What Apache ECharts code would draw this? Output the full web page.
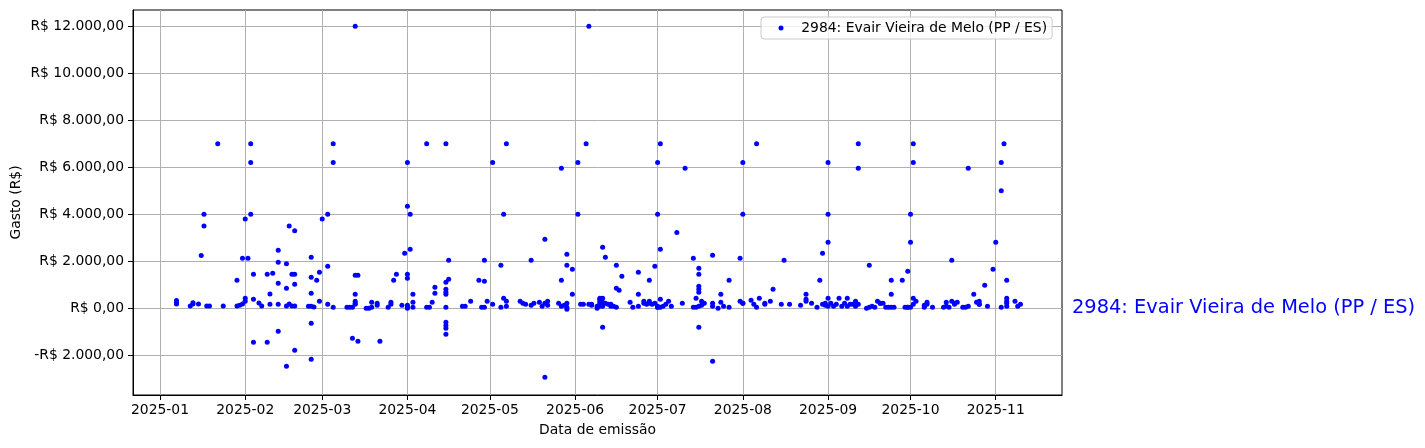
<!DOCTYPE html>
<html>
<head>
<meta charset="utf-8">
<script src="https://cdn.jsdelivr.net/npm/echarts@6/dist/echarts.min.js"></script>
<style>
html,body{margin:0;padding:0;background:#fff;}
#chart{width:1425px;height:448px;}
</style>
</head>
<body>
<div id="chart"></div>
<script>
// ---- data ----
const seriesName = '2984: Evair Vieira de Melo (PP / ES)';
const xAxisTitle = 'Data de emissão';
const yAxisTitle = 'Gasto (R$)';
const xTickDates = ['2025-01-01','2025-02-01','2025-03-01','2025-04-01','2025-05-01','2025-06-01','2025-07-01','2025-08-01','2025-09-01','2025-10-01','2025-11-01'];
const yTickValues = [-2000, 0, 2000, 4000, 6000, 8000, 10000, 12000];

const days = [
'2025-01-07','2025-01-12','2025-01-13','2025-01-15','2025-01-16','2025-01-17','2025-01-18','2025-01-19','2025-01-22','2025-01-24',
'2025-01-29','2025-01-30','2025-01-31','2025-02-01','2025-02-02','2025-02-03','2025-02-04','2025-02-06','2025-02-07','2025-02-09',
'2025-02-10','2025-02-11','2025-02-13','2025-02-16','2025-02-17','2025-02-18','2025-02-19','2025-02-24','2025-02-25','2025-02-26',
'2025-02-27','2025-02-28','2025-03-01','2025-03-03','2025-03-05','2025-03-10','2025-03-11','2025-03-12','2025-03-13','2025-03-14',
'2025-03-17','2025-03-18','2025-03-19','2025-03-21','2025-03-22','2025-03-25','2025-03-26','2025-03-27','2025-03-28','2025-03-30',
'2025-03-31','2025-04-01','2025-04-02','2025-04-03','2025-04-08','2025-04-09','2025-04-10','2025-04-11','2025-04-15','2025-04-16',
'2025-04-21','2025-04-22','2025-04-24','2025-04-27','2025-04-28','2025-04-29','2025-04-30','2025-05-02','2025-05-05','2025-05-06',
'2025-05-07','2025-05-12','2025-05-13','2025-05-14','2025-05-16','2025-05-17','2025-05-19','2025-05-20','2025-05-21','2025-05-22',
'2025-05-26','2025-05-27','2025-05-28','2025-05-29','2025-05-31','2025-06-02','2025-06-03','2025-06-04','2025-06-05','2025-06-06',
'2025-06-07','2025-06-09','2025-06-10','2025-06-11','2025-06-12','2025-06-13','2025-06-14','2025-06-15','2025-06-16','2025-06-17',
'2025-06-18','2025-06-21','2025-06-22','2025-06-24','2025-06-26','2025-06-27','2025-06-28','2025-06-29','2025-06-30','2025-07-01',
'2025-07-02','2025-07-03','2025-07-04','2025-07-05','2025-07-06','2025-07-08','2025-07-10','2025-07-11','2025-07-14','2025-07-15',
'2025-07-16','2025-07-17','2025-07-18','2025-07-21','2025-07-23','2025-07-24','2025-07-25','2025-07-27','2025-07-31','2025-08-01',
'2025-08-04','2025-08-05','2025-08-06','2025-08-07','2025-08-09','2025-08-11','2025-08-12','2025-08-15','2025-08-16','2025-08-18',
'2025-08-22','2025-08-24','2025-08-26','2025-08-28','2025-08-29','2025-08-30','2025-08-31','2025-09-01','2025-09-02','2025-09-03',
'2025-09-04','2025-09-05','2025-09-06','2025-09-07','2025-09-08','2025-09-09','2025-09-10','2025-09-11','2025-09-12','2025-09-15',
'2025-09-16','2025-09-17','2025-09-18','2025-09-19','2025-09-20','2025-09-21','2025-09-22','2025-09-23','2025-09-24','2025-09-25',
'2025-09-28','2025-09-29','2025-09-30','2025-10-01','2025-10-02','2025-10-03','2025-10-06','2025-10-07','2025-10-09','2025-10-13',
'2025-10-14','2025-10-15','2025-10-16','2025-10-17','2025-10-18','2025-10-20','2025-10-21','2025-10-22','2025-10-24','2025-10-25',
'2025-10-26','2025-10-28','2025-10-29','2025-10-31','2025-11-01','2025-11-03','2025-11-04','2025-11-05','2025-11-08','2025-11-09',
'2025-11-10'
];
const amounts = [
[330,250,180],[100],[240,184],[184],[2250],[4000,3500],[100],[100],[7000],[100],
[100,1190],[128],[184,2130],[3800,425,298],[2130],[7000,6200,4000],[383,1446,-1446],[227],[100],[1446,-1446],
[610,170],[1489],[2467,1957,1064,170,-978],[100,1900,850,-2467],[3500,184],[1446,100],[3300,1446,1021,100,-1787],[85],[85,2170,1319,638,-638,-2170],[57],
[1191],[1531,298],[3800],[4000,1787,170],[7000,6200,43],[43],[43],[43,-1276],[12000,596,298,213,170,1404],[1404,-1404],
[0],[0],[43,255],[213,128],[-1404],[43],[255,170],[1191],[1446],[128],
[2340],[6200,4340,1446,1276,128,0,43],[4000,2510],[596,255,43],[7000,43],[43],[255],[893,638],[7000,1106,808,680,596,43,-596,-737,-851,-1106],[2042,1234],
[85],[85],[298],[1191],[43],[43,1149,2042],[298],[6200,170],[1829,43],[4000,425],
[7000,85,298],[298],[213],[170],[2042,128],[213],[255],[85],[2935,-2935,213],[298,128],
[213],[85,1191,5960],[128],[43,-43,213,2297,1829],[1659,596],[6200,4000],[170],[170],[7000],[170,12000],
[128,170],[85,0],[425,85,213,383,298],[85,425,255,2595,-808],[213,2170],[170],[85,170],[85],[43,1829,850],[766],
[1361],[255],[43],[85,596,1531],[298,213],[170],[213,298,1191],[170],[213,1787],[85,43,43,6200,4000],
[7000,383,43,2510],[85],[170],[298],[85],[3230],[213],[5960],[2127,43],[425,43],
[1701,1446,936,808,680,-808,85],[298,128],[213],[213,85,2255,-2255],[0],[255,596],[85],[43,1191],[2127,298],[213,6200,4000,213],
[340],[170],[7000,43],[425],[213,170],[298],[808],[170],[2042],[170],
[128],[596,383,298],[213],[43],[1191],[2340,170],[213,128],[6200,4000,2808,425,85],[213],[85],
[170],[425],[85],[213],[425,85],[170],[170],[85,298,213],[170,7000,5960],[0],
[43,1829],[85],[43],[298],[213,213],[213],[43],[43],[1191,596,43],[43],
[1191],[43],[1574,43,43],[2808,4000,43],[170,7000,6200,425],[298],[128,43],[170,255],[43],[43],
[255,85],[43],[298,2042],[170,213],[255],[43],[43],[85,5960],[596],[255],
[298,170,170],[978],[85],[1659],[2808],[43,6200,5000],[7000],[1191,85,213,298,425],[298],[85],
[170]
];

// ---- build ----
const toTime = s => echarts.time.parse(s).getTime();
const points = [];
days.forEach((d, i) => amounts[i].forEach(v => points.push([toTime(d), v])));

const DAY = 86400000;
const t0 = toTime('2025-01-01');
const xMin = t0 - 9.82 * DAY;
const xMax = t0 + 328.1 * DAY;
const xTicks = xTickDates.map(toTime);

function pad(n){ return (n < 10 ? '0' : '') + n; }
function fmtMoney(v){
  const neg = v < 0;
  const a = Math.abs(v);
  const intPart = Math.floor(a).toString().replace(/\B(?=(\d{3})+(?!\d))/g, '.');
  return (neg ? '-' : '') + 'R$ ' + intPart + ',00';
}

const FONT = 'DejaVu Sans';
const chart = echarts.init(document.getElementById('chart'), null, {renderer: 'canvas'});
const option = {
  animation: false,
  backgroundColor: '#ffffff',
  textStyle: {fontFamily: FONT},
  grid: {
    left: 133, right: 363, top: 10, bottom: 53,
    containLabel: false,
    outerBoundsMode: 'none',
    show: true, borderColor: '#000', borderWidth: 1, backgroundColor: '#fff'
  },
  legend: {
    show: true,
    data: [seriesName],
    left: 761, top: 17,
    orient: 'vertical',
    padding: [4, 5, 4, 17.5],
    itemWidth: 30.5, itemHeight: 5,
    icon: 'circle',
    borderColor: '#cccccc', borderWidth: 1, borderRadius: 3,
    backgroundColor: 'rgba(255,255,255,0.8)',
    textStyle: {fontFamily: FONT, fontSize: 13.9, color: '#000'}
  },
  xAxis: {
    type: 'value',
    min: xMin, max: xMax,
    name: xAxisTitle,
    nameLocation: 'middle',
    nameGap: 28,
    nameTextStyle: {fontFamily: FONT, fontSize: 13.9, color: '#000'},
    axisLine: {show: true, onZero: false, lineStyle: {color: '#000', width: 1}},
    axisTick: {show: true, length: 5, lineStyle: {color: '#000', width: 1}, customValues: xTicks},
    axisLabel: {
      show: true, margin: 8, color: '#000', fontFamily: FONT, fontSize: 13.9,
      customValues: xTicks,
      formatter: function (v) { const d = new Date(v); return d.getFullYear() + '-' + pad(d.getMonth() + 1); },
      hideOverlap: false
    },
    splitLine: {show: true, lineStyle: {color: '#b0b0b0', width: 1}}
  },
  yAxis: {
    type: 'value',
    min: -3690, max: 12693,
    name: yAxisTitle,
    nameLocation: 'middle',
    nameGap: 110,
    nameMoveOverlap: false,
    nameTextStyle: {fontFamily: FONT, fontSize: 13.9, color: '#000'},
    axisLine: {show: true, onZero: false, lineStyle: {color: '#000', width: 1}},
    axisTick: {show: true, length: 5, lineStyle: {color: '#000', width: 1}, customValues: yTickValues},
    axisLabel: {
      show: true, margin: 9, color: '#000', fontFamily: FONT, fontSize: 13.9,
      customValues: yTickValues,
      formatter: fmtMoney
    },
    splitLine: {show: true, lineStyle: {color: '#b0b0b0', width: 1}}
  },
  series: [{
    name: seriesName,
    type: 'scatter',
    data: points,
    symbol: 'circle',
    symbolSize: 5,
    itemStyle: {color: '#0000ff', opacity: 1},
    emphasis: {disabled: true}
  }]
};
chart.setOption(option);

// name label at the right of the plot, at the zero level
const yZero = chart.convertToPixel({yAxisIndex: 0}, 0);
chart.setOption({
  graphic: [{
    type: 'text',
    x: 1072,
    y: yZero,
    style: {text: seriesName, fill: '#0000ff', font: '19.4px "DejaVu Sans"', align: 'left', verticalAlign: 'middle'}
  }]
});
</script>
</body>
</html>
